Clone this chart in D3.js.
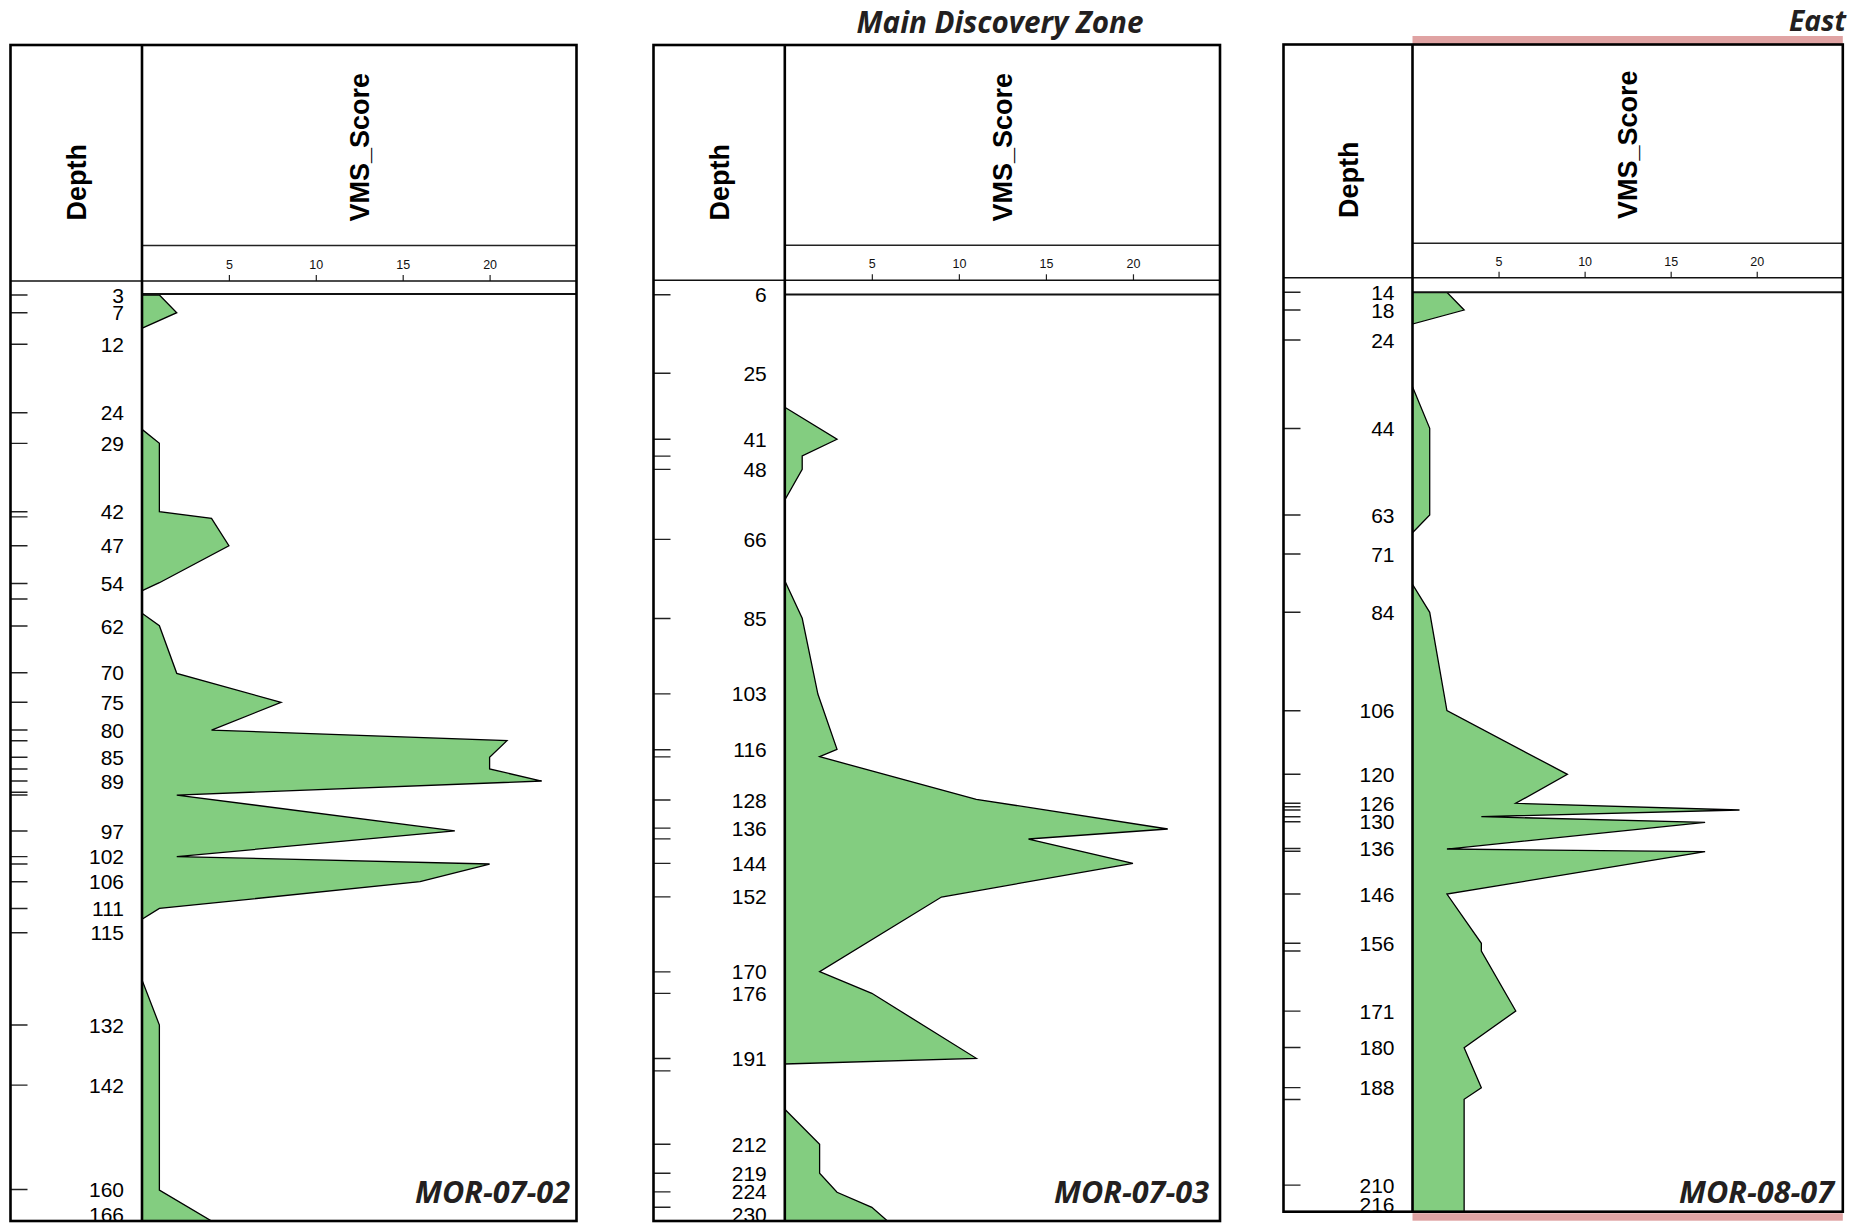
<!DOCTYPE html>
<html><head><meta charset="utf-8">
<script src="https://cdn.jsdelivr.net/npm/d3@7"></script>
<style>html,body{margin:0;padding:0;background:#fff;} svg{display:block;}</style>
</head><body>
<svg id="chart" width="1871" height="1223"></svg>
<script>
// ---------------- DATA ----------------
const wellNames = ["MOR-07-02", "MOR-07-03", "MOR-08-07"];
const groupTitles = ["Main Discovery Zone", "East"];
const depthTitle = "Depth";
const scoreTitle = "VMS_Score";
const scoreDomain = [0, 25];
const scoreTicks = [5, 10, 15, 20];

// depth at top and bottom of each log
const depthTop = [2.8, 6.0, 14.0];
const depthBottom = [165.43, 229.63, 215.84];

// Well 1: MOR-07-02 (null score = gap)
const w1Depth = [2.98, 6.08, 8.82, null, 26.54, 29.0, 41.0, 42.15, 46.96, 53.45, 54.85, null,
  58.82, 61.0, 69.35, 74.44, 79.3, 81.17, 84.08, 86.13, 88.24, 90.7, 97.0, 101.5, 102.8, 105.9, 110.6, 112.5, null,
  123.15, 131.05, 160.0, 165.43];
const w1Score = [1, 2, 0, null, 0, 1, 1, 4, 5, 1, 0, null,
  0, 1, 2, 8, 4, 21, 20, 20, 23, 2, 18, 2, 20, 16, 1, 0, null,
  0, 1, 1, 4];
const w1TickDepth = [2.98, 6.08, 11.62, 23.62, 29.0, 41.0, 41.9, 46.96, 53.6, 56.3, 61.05, 69.24, 74.43, 79.29, 81.17,
  84.08, 86.13, 88.24, 90.22, 90.7, 97.0, 101.5, 102.8, 105.9, 110.6, 114.85, 131.05, 141.6, 159.9, 165.43];
const w1TickLabel = ["3", "7", "12", "24", "29", "42", "", "47", "54", "", "62", "70", "75", "80", "",
  "85", "", "89", "", "", "97", "102", "", "106", "111", "115", "132", "142", "160", "166"];

// Well 2: MOR-07-03
const w2Depth = [33.23, 40.95, 44.98, 48.19, 55.6, null,
  75.08, 84.16, 102.43, 115.78, 117.56, 127.84, 135.01, 137.43, 143.29, 151.43, 169.46, 174.67, 190.36, 191.73, null,
  202.67, 211.12, 218.12, 222.7, 226.32, 229.63];
const w2Score = [0, 3, 1, 1, 0, null,
  0, 1, 1.9, 3, 2, 11, 22, 14, 20, 9, 2, 5, 11, 0, null,
  0, 2, 2, 3, 5, 5.9];
const w2TickDepth = [6.05, 25.0, 40.95, 45.0, 48.2, 65.1, 84.2, 102.4, 115.9, 117.6, 128.0, 134.8, 137.4, 143.3,
  151.4, 169.5, 174.7, 190.4, 193.4, 211.1, 218.1, 222.6, 226.3];
const w2TickLabel = ["6", "25", "41", "", "48", "66", "85", "103", "116", "", "128", "136", "", "144",
  "152", "170", "176", "191", "", "212", "219", "224", "230"];

// Well 3: MOR-08-07
const w3Depth = [14.0, 17.89, 20.96, null, 34.72, 43.86, 62.89, 66.78, null,
  78.1, 84.25, 105.85, 119.82, 126.18, 127.65, 129.12, 130.36, 136.22, 136.81, 146.1, 156.92, 158.61,
  171.78, 179.84, 188.62, 191.17, 215.84];
const w3Score = [2, 3, 0, null, 0, 1, 1, 0, null,
  0, 1, 2, 9, 6, 19, 4, 17, 2, 17, 2, 4, 4,
  6, 3, 4, 3, 3];
const w3TickDepth = [14.0, 17.89, 24.47, 43.9, 62.9, 71.45, 84.25, 105.85, 119.8, 126.18, 126.93, 127.65, 129.12,
  130.22, 136.1, 136.7, 146.1, 156.9, 158.6, 171.8, 179.8, 188.6, 191.2, 210.0, 215.84];
const w3TickLabel = ["14", "18", "24", "44", "63", "71", "84", "106", "120", "126", "", "", "",
  "130", "136", "", "146", "156", "", "171", "180", "188", "", "210", "216"];

// ---------------- LAYOUT ----------------
const panels = [
  {left: 10.5, divider: 142, right: 576.5, top: 45, headerSep: 245.5, axisY: 281, plotTop: 294, bottom: 1221, textStart: 220.5, nameRight: 570},
  {left: 653.5, divider: 784.8, right: 1220, top: 45, headerSep: 245.3, axisY: 280.3, plotTop: 294.5, bottom: 1221, textStart: 220.5, nameRight: 1209},
  {left: 1283.5, divider: 1412.5, right: 1842.8, top: 44.5, headerSep: 243.3, axisY: 277.7, plotTop: 292.3, bottom: 1211.7, textStart: 218, nameRight: 1834}
];
const wellData = [
  {depth: w1Depth, score: w1Score, tickDepth: w1TickDepth, tickLabel: w1TickLabel},
  {depth: w2Depth, score: w2Score, tickDepth: w2TickDepth, tickLabel: w2TickLabel},
  {depth: w3Depth, score: w3Score, tickDepth: w3TickDepth, tickLabel: w3TickLabel}
];

const FILL = "#83cd80";
const PINK = "#e0a3a3";
const svg = d3.select("#chart");
const defs = svg.append("defs");

function fitWidth(sel, target) {
  const node = sel.node();
  const base = parseFloat(sel.style("font-size"));
  const w = node.getComputedTextLength();
  if (w > 0) sel.style("font-size", (base * target / w) + "px");
}

panels.forEach((p, i) => {
  const wd = wellData[i];
  const g = svg.append("g");
  const x = d3.scaleLinear().domain(scoreDomain).range([p.divider, p.right]);
  const y = d3.scaleLinear().domain([depthTop[i], depthBottom[i]]).range([p.plotTop, p.bottom]);

  // clip paths (absolute coordinates)
  defs.append("clipPath").attr("id", "plotclip" + i)
    .append("rect").attr("x", p.divider).attr("y", p.plotTop).attr("width", p.right - p.divider).attr("height", p.bottom - p.plotTop);
  defs.append("clipPath").attr("id", "depthclip" + i)
    .append("rect").attr("x", p.left).attr("y", p.axisY).attr("width", p.divider - p.left).attr("height", p.bottom - p.axisY);

  // pink zone markers (East panel)
  if (i === 2) {
    g.append("rect").attr("x", p.divider).attr("y", 36).attr("width", p.right - p.divider).attr("height", p.top - 36).attr("fill", PINK);
    g.append("rect").attr("x", p.divider).attr("y", p.bottom + 1.5).attr("width", p.right - p.divider).attr("height", 7.5).attr("fill", PINK);
  }

  // data area
  const pts = wd.depth.map((d, k) => ({d: d, v: wd.score[k]}));
  const area = d3.area()
    .defined(d => d.v != null && d.d != null)
    .x0(x(0)).x1(d => x(d.v)).y(d => y(d.d));
  g.append("path").datum(pts)
    .attr("clip-path", `url(#plotclip${i})`)
    .attr("d", area)
    .attr("fill", FILL).attr("stroke", "#000").attr("stroke-width", 1.3).attr("stroke-linejoin", "miter");

  // depth axis (ticks at left edge of depth column)
  const depthAxis = d3.axisRight(y).tickValues(wd.tickDepth)
    .tickFormat((d, k) => wd.tickLabel[k]).tickSize(17).tickPadding(0);
  const gclip = g.append("g").attr("clip-path", `url(#depthclip${i})`);
  const ga = gclip.append("g").attr("transform", `translate(${p.left},0)`).call(depthAxis);
  ga.select(".domain").remove();
  ga.selectAll(".tick line").attr("stroke", "#222").attr("stroke-width", 1.4);
  const nT = wd.tickDepth.length;
  ga.selectAll(".tick").attr("transform", null);
  ga.selectAll(".tick line").attr("y1", (d) => y(d)).attr("y2", (d) => y(d));
  ga.selectAll(".tick text")
    .attr("x", p.divider - 18 - p.left)
    .attr("y", (d, k) => k === nT - 1 ? p.bottom - 7 : y(d))
    .attr("dy", "0.36em")
    .attr("text-anchor", "end")
    .attr("font-family", "'Liberation Sans', Arial, sans-serif")
    .attr("font-size", 21).attr("fill", "#000");

  // score axis
  const scoreAxis = d3.axisTop(x).tickValues(scoreTicks).tickSize(6).tickPadding(6);
  const gx = g.append("g").attr("transform", `translate(0,${p.axisY})`).call(scoreAxis);
  gx.select(".domain").remove();
  gx.selectAll(".tick line").attr("stroke", "#222").attr("stroke-width", 1.2);
  gx.selectAll(".tick text").attr("font-family", "'Liberation Sans', Arial, sans-serif")
    .attr("font-size", 12.5).attr("fill", "#111");

  // frame lines
  const line = (x1, y1, x2, y2, w, c) => g.append("line").attr("x1", x1).attr("y1", y1).attr("x2", x2).attr("y2", y2)
    .attr("stroke", c || "#000").attr("stroke-width", w);
  line(p.divider, p.headerSep, p.right, p.headerSep, 1.4, "#222");
  line(p.left, p.axisY, p.right, p.axisY, 1.5, "#111");
  line(p.divider, p.plotTop, p.right, p.plotTop, 2, "#111");
  g.append("rect").attr("x", p.left).attr("y", p.top).attr("width", p.right - p.left).attr("height", p.bottom - p.top)
    .attr("fill", "none").attr("stroke", "#000").attr("stroke-width", 2.6);
  line(p.divider, p.top, p.divider, p.bottom, 2.6);

  // header titles (rotated)
  const cap = 27 * 0.716;
  g.append("text")
    .attr("transform", `translate(${(p.left + p.divider) / 2 + cap / 2},${p.textStart}) rotate(-90)`)
    .attr("font-family", "'Liberation Sans', Arial, sans-serif").attr("font-weight", "bold")
    .attr("font-size", 27).attr("fill", "#000").text(depthTitle);
  g.append("text")
    .attr("transform", `translate(${(p.divider + p.right) / 2 + cap / 2},${p.textStart + 1}) rotate(-90)`)
    .attr("font-family", "'Liberation Sans', Arial, sans-serif").attr("font-weight", "bold")
    .attr("font-size", 27).attr("fill", "#000").text(scoreTitle);

  // well name
  const nm = g.append("text")
    .attr("x", p.nameRight).attr("y", 1203).attr("text-anchor", "end")
    .attr("font-family", "'Open Sans', sans-serif").attr("font-weight", 700).attr("font-style", "italic")
    .style("font-size", "26px").attr("fill", "#231f20").text(wellNames[i]);
  fitWidth(nm, 155);
});

// group titles
const t1 = svg.append("text").attr("x", 1000).attr("y", 33).attr("text-anchor", "middle")
  .attr("font-family", "'Open Sans', sans-serif").attr("font-weight", 700).attr("font-style", "italic")
  .style("font-size", "26px").attr("fill", "#231f20").text(groupTitles[0]);
fitWidth(t1, 287);
const t2 = svg.append("text").attr("x", 1846).attr("y", 30.5).attr("text-anchor", "end")
  .attr("font-family", "'Open Sans', sans-serif").attr("font-weight", 700).attr("font-style", "italic")
  .style("font-size", "26px").attr("fill", "#231f20").text(groupTitles[1]);
fitWidth(t2, 57);
</script>
</body></html>
